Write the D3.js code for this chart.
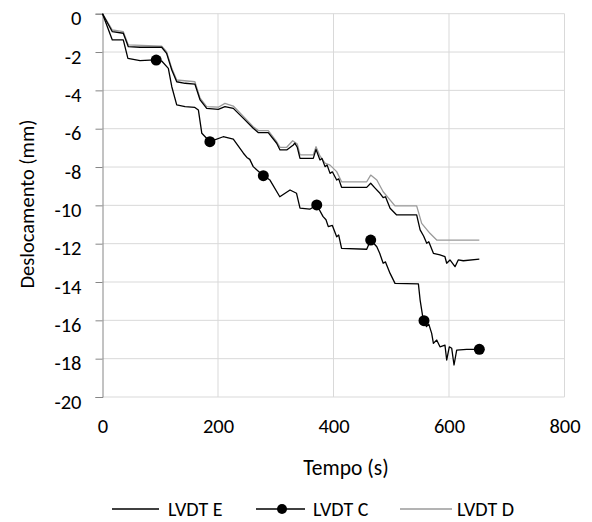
<!DOCTYPE html>
<html>
<head>
<meta charset="utf-8">
<script src="https://cdn.jsdelivr.net/npm/d3@7"></script>
<style>
  html, body { margin: 0; padding: 0; background: #fff; }
  svg { display: block; }
  text { font-family: Carlito, Calibri, Lato, "Noto Sans", sans-serif; fill: #000; }
</style>
</head>
<body>
<svg id="chart" width="592" height="522"></svg>
<script>
// Displacement readings (mm) against time (s) for the three LVDTs
const timeE = [0, 17, 36, 44.7, 65, 102.5, 111, 120, 128.5, 143, 160, 169, 180.4, 200.5, 212, 226.5, 244, 261, 270, 287, 301.6, 307.4, 319, 330.4, 333, 337.3, 342, 365, 369.7, 373, 376.6, 380, 385.3, 389, 394, 398, 405.5, 409, 414, 457.5, 464.4, 472, 480.5, 486, 490, 498, 509.4, 544, 550, 556, 561.4, 565, 573, 584.4, 593, 596, 601.7, 610.4, 616, 624.8, 652.5];
const valueE = [0, -0.94, -1.02, -1.72, -1.75, -1.75, -2.07, -2.94, -3.55, -3.63, -3.67, -4.5, -4.94, -4.99, -4.85, -4.94, -5.46, -5.98, -6.21, -6.21, -6.76, -7.11, -7.11, -6.85, -6.75, -6.97, -7.55, -7.55, -7.08, -7.35, -7.63, -7.55, -7.98, -7.9, -8.33, -8.25, -8.68, -8.62, -9.06, -9.06, -8.85, -9.1, -9.37, -9.6, -9.55, -10.15, -10.5, -10.5, -11.28, -11.6, -11.98, -11.9, -12.5, -12.59, -12.68, -13.02, -12.85, -13.2, -12.85, -12.89, -12.81];

const timeC = [0, 17, 36, 44, 65, 82, 93, 102.5, 114, 120, 128.5, 143, 160, 166, 172, 186, 209, 226.5, 244, 250, 255, 261, 278.5, 290, 307, 324.7, 336, 342, 359, 371, 382, 387, 391, 398, 405.5, 409, 414, 457.5, 464.4, 475, 480, 486, 490, 498, 506.5, 547, 550, 554.5, 556.7, 561, 565, 570, 573, 578.7, 584.4, 593, 596, 600.5, 604.7, 608.7, 613.3, 630.6, 652.5];
const valueC = [0, -1.37, -1.37, -2.33, -2.45, -2.42, -2.42, -2.47, -2.85, -3.81, -4.76, -4.85, -4.89, -5.02, -6.24, -6.68, -6.42, -6.55, -7.28, -7.5, -7.6, -7.98, -8.45, -8.68, -9.55, -9.2, -9.37, -10.15, -10.2, -9.98, -10.59, -10.75, -11.11, -11.05, -11.64, -11.55, -12.24, -12.29, -11.81, -12.16, -12.5, -13.02, -12.95, -13.55, -14.07, -14.1, -14.94, -15.81, -16.02, -16.33, -16.2, -16.68, -17.2, -17.03, -17.38, -17.29, -18.07, -17.38, -17.46, -18.33, -17.55, -17.51, -17.51];

const timeD = [0, 17, 36, 44.7, 102.5, 111, 120, 128.5, 160, 169, 180.4, 200.5, 212, 226.5, 244, 261, 270, 287, 301.6, 307.4, 319, 329.3, 337.3, 342, 365, 369.7, 376.6, 385.3, 394, 405.5, 414, 457.5, 464.4, 475, 486, 506.5, 544, 552.7, 567, 578.7, 652.5];
const valueD = [0, -0.85, -0.94, -1.63, -1.69, -1.98, -2.85, -3.46, -3.55, -4.41, -4.85, -4.88, -4.68, -4.82, -5.36, -5.9, -6.1, -6.1, -6.68, -6.97, -6.97, -6.63, -6.8, -7.37, -7.37, -6.94, -7.42, -7.8, -7.9, -8.24, -8.77, -8.77, -8.42, -8.68, -9.29, -10.03, -10.03, -10.94, -11.46, -11.81, -11.81];

// Marker positions on the LVDT C trace (times of the sampled readings)
const markTimesC = [93, 186, 278.5, 371, 464.4, 556.7, 652.5];

const xTicks = [0, 200, 400, 600, 800];
const yTicks = [0, -2, -4, -6, -8, -10, -12, -14, -16, -18, -20];
const seriesNames = ["LVDT E", "LVDT C", "LVDT D"];

(function draw() {
  const svg = d3.select("#chart");
  const FONT = "Carlito, Calibri, Lato, 'Noto Sans', sans-serif";
  const pLeft = 102.5, pRight = 564.5, pTop = 13.7, pBottom = 397;

  const x = d3.scaleLinear().domain([0, 800]).range([pLeft, pRight]);
  const y = d3.scaleLinear().domain([-20, 0]).range([pBottom, pTop]);

  // Gridlines
  const grid = svg.append("g").attr("stroke", "#d9d9d9").attr("stroke-width", 1);
  grid.selectAll("line.h").data(yTicks).join("line").attr("class", "h")
    .attr("x1", pLeft).attr("x2", pRight)
    .attr("y1", d => y(d)).attr("y2", d => y(d));
  grid.selectAll("line.v").data(xTicks.slice(1)).join("line").attr("class", "v")
    .attr("y1", pTop).attr("y2", pBottom)
    .attr("x1", d => x(d)).attr("x2", d => x(d));

  // Y axis
  const yAxis = d3.axisLeft(y).tickValues(yTicks).tickSize(7).tickPadding(14)
    .tickFormat(d => String(d));
  const gy = svg.append("g").attr("transform", `translate(${pLeft},0)`).call(yAxis);
  gy.select(".domain").attr("stroke", "#868686");
  gy.selectAll(".tick line").attr("stroke", "#868686");
  gy.selectAll(".tick text").attr("font-size", 20.5).attr("dy", "0.55em").style("font-family", FONT);

  // X axis
  const xAxis = d3.axisBottom(x).tickValues(xTicks).tickSize(0).tickPadding(21)
    .tickFormat(d => String(d));
  const gx = svg.append("g").attr("transform", `translate(0,${pBottom})`).call(xAxis);
  gx.select(".domain").remove();
  gx.selectAll(".tick text").attr("font-size", 20.5).style("font-family", FONT);

  // Axis titles
  svg.append("text").attr("x", 346).attr("y", 475).attr("text-anchor", "middle")
    .attr("font-size", 21.5).text("Tempo (s)");
  svg.append("text").attr("transform", "translate(34,204) rotate(-90)")
    .attr("text-anchor", "middle").attr("font-size", 20.5).text("Deslocamento (mm)");

  // Traces
  const line = d3.line().x(d => x(d[0])).y(d => y(d[1]));
  const pair = (t, v) => t.map((d, i) => [d, v[i]]);
  const dataE = pair(timeE, valueE), dataC = pair(timeC, valueC), dataD = pair(timeD, valueD);

  svg.append("path").datum(dataD).attr("d", line)
    .attr("fill", "none").attr("stroke", "#9a9a9a").attr("stroke-width", 1.3).attr("stroke-linejoin", "round");
  svg.append("path").datum(dataE).attr("d", line)
    .attr("fill", "none").attr("stroke", "#000").attr("stroke-width", 1.3).attr("stroke-linejoin", "round");
  svg.append("path").datum(dataC).attr("d", line)
    .attr("fill", "none").attr("stroke", "#000").attr("stroke-width", 1.3).attr("stroke-linejoin", "round");

  const markC = markTimesC.map(t => dataC.find(d => d[0] === t));
  svg.selectAll("circle.mc").data(markC).join("circle").attr("class", "mc")
    .attr("cx", d => x(d[0])).attr("cy", d => y(d[1])).attr("r", 5.5).attr("fill", "#000");

  // Legend
  const legend = [
    { name: seriesNames[0], x1: 112, x2: 159, tx: 168, color: "#000", marker: false },
    { name: seriesNames[1], x1: 256, x2: 305, tx: 313, color: "#000", marker: true },
    { name: seriesNames[2], x1: 400, x2: 452, tx: 457, color: "#9a9a9a", marker: false }
  ];
  const lg = svg.append("g");
  legend.forEach(l => {
    lg.append("line").attr("x1", l.x1).attr("x2", l.x2).attr("y1", 509).attr("y2", 509)
      .attr("stroke", l.color).attr("stroke-width", 1.3);
    if (l.marker) lg.append("circle").attr("cx", 282).attr("cy", 509).attr("r", 5).attr("fill", "#000");
    lg.append("text").attr("x", l.tx).attr("y", 516).attr("font-size", 20).text(l.name);
  });
})();
</script>
</body>
</html>
